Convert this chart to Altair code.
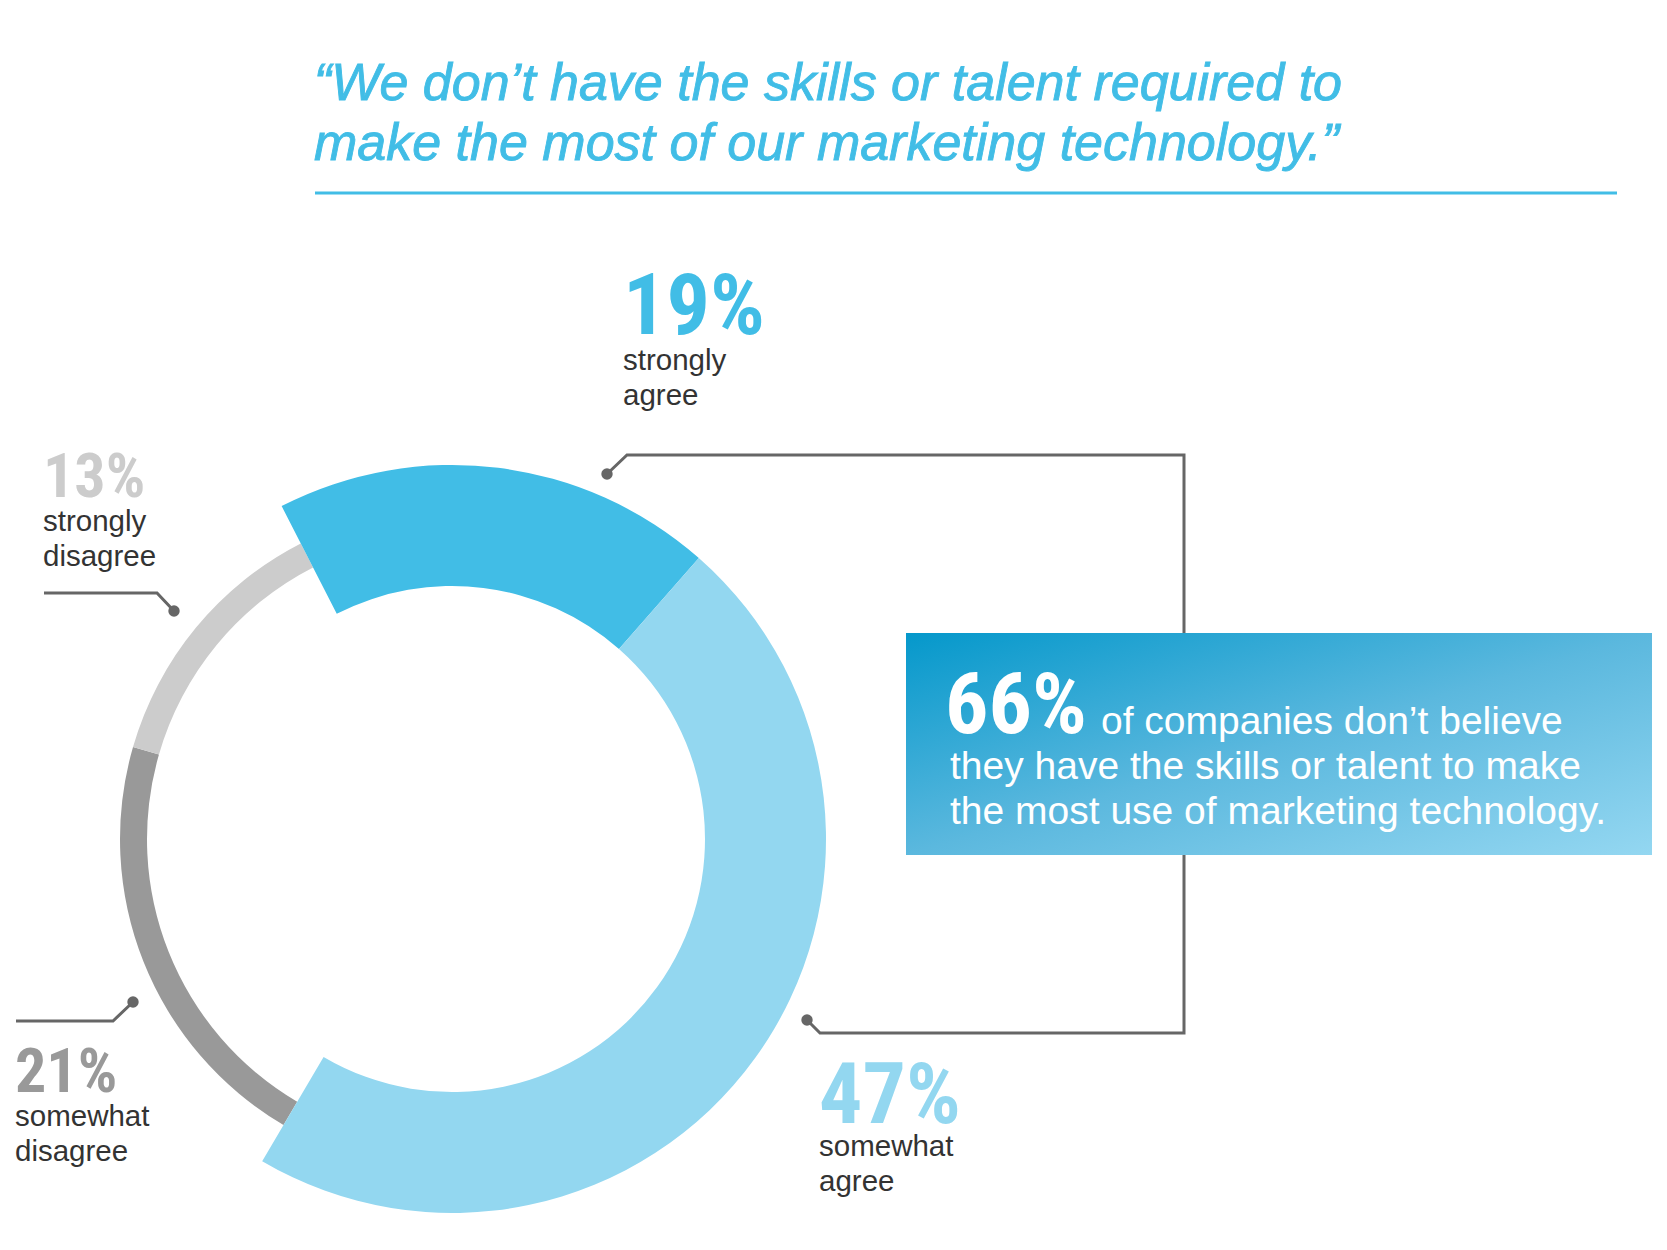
import altair as alt
import pandas as pd
import numpy as np

# ---- data ----
categories = ["strongly agree", "somewhat agree", "somewhat disagree", "strongly disagree"]
values = [19, 47, 21, 13]
groups = ["agree", "agree", "disagree", "disagree"]
pct_labels = ["19%", "47%", "21%", "13%"]
sub_line1 = ["strongly", "somewhat", "somewhat", "strongly"]
sub_line2 = ["agree", "agree", "disagree", "disagree"]
colors = ["#41bde6", "#93d7f0", "#999999", "#cccccc"]

title_lines = ["“We don’t have the skills or talent required to",
               "make the most of our marketing technology.”"]
box_big = "66%"
box_lines = ["of companies don’t believe",
             "they have the skills or talent to make",
             "the most use of marketing technology."]

# ---- layout (page pixels -> chart pixels, page margin 8) ----
M = 8
W, H = 1667 - 2 * M, 1250 - 2 * M
def px(v):
    return v - M

CX, CY = px(452), px(839)
START = 2 * np.pi - np.deg2rad(27.1)

df = pd.DataFrame({"category": categories, "value": values, "group": groups,
                   "pct": pct_labels,
                   "sub": [a + "\n" + b for a, b in zip(sub_line1, sub_line2)]})
df["end"] = np.cumsum(df["value"])
df["start"] = df["end"] - df["value"]

color_scale = alt.Scale(domain=categories, range=colors)
theta_scale = alt.Scale(domain=[0, 100], range=[START, START + 2 * np.pi])

base = alt.Chart(df).encode(
    theta=alt.Theta("start:Q", scale=theta_scale, stack=False),
    theta2="end:Q",
    color=alt.Color("category:N", scale=color_scale, legend=None),
    x=alt.value(CX), y=alt.value(CY),
)
arc_agree = base.transform_filter("datum.group == 'agree'").mark_arc(radius=374, radius2=253)
arc_dis = base.transform_filter("datum.group == 'disagree'").mark_arc(radius=332, radius2=305)

# label placement: category -> (x, pct baseline, sub baseline, pct size)
label_pos = {
    "strongly agree": (623, 334, 370, 86),
    "somewhat agree": (819, 1123, 1156, 86),
    "somewhat disagree": (15, 1092, 1126, 62),
    "strongly disagree": (43, 497, 531, 62),
}
PCT_FONT = "Liberation Sans Narrow, Roboto Condensed, DejaVu Sans Condensed, Liberation Sans, sans-serif"
BODY_FONT = "Liberation Sans, Arial, sans-serif"

layers = []
for cat, (lx, py, sy, fs) in label_pos.items():
    sel = alt.Chart(df).transform_filter(alt.datum.category == cat)
    layers.append(sel.mark_text(align="left", baseline="alphabetic", fontSize=fs,
                                fontWeight="bold", font=PCT_FONT).encode(
        text="pct:N", color=alt.Color("category:N", scale=color_scale, legend=None),
        x=alt.value(px(lx)), y=alt.value(px(py))))
    layers.append(sel.mark_text(align="left", baseline="alphabetic", fontSize=29.5,
                                font=BODY_FONT, color="#333333", lineBreak="\n",
                                lineHeight=35).encode(
        text="sub:N", x=alt.value(px(lx)), y=alt.value(px(sy))))

# leader lines
paths = pd.DataFrame({
    "path": ["a"] * 6 + ["b"] * 3 + ["c"] * 3,
    "order": [0, 1, 2, 3, 4, 5, 0, 1, 2, 0, 1, 2],
    "x": [px(v) for v in [607, 627, 1184, 1184, 820, 807, 44, 157, 174, 16, 113, 133]],
    "y": [px(v) for v in [474, 455, 455, 1033, 1033, 1020, 593, 593, 611, 1021, 1021, 1002]],
})
leader = alt.Chart(paths).mark_line(color="#666666", strokeWidth=3).encode(
    x=alt.X("x:Q", scale=None, axis=None), y=alt.Y("y:Q", scale=None, axis=None),
    detail="path:N", order="order:Q")
dots = pd.DataFrame({"x": [px(v) for v in [607, 807, 174, 133]],
                     "y": [px(v) for v in [474, 1020, 611, 1002]]})
dot = alt.Chart(dots).mark_circle(color="#666666", size=130, opacity=1).encode(
    x=alt.X("x:Q", scale=None, axis=None), y=alt.Y("y:Q", scale=None, axis=None))

one = pd.DataFrame({"k": [0]})
box = alt.Chart(one).mark_rect(
    fill=alt.Gradient(gradient="linear",
                      stops=[alt.GradientStop(color="#0598cb", offset=0),
                             alt.GradientStop(color="#5bb8de", offset=0.5),
                             alt.GradientStop(color="#94d7f1", offset=1)],
                      x1=0, y1=0, x2=1, y2=1)
).encode(x=alt.value(px(906)), x2=alt.value(px(1652)), y=alt.value(px(633)), y2=alt.value(px(855)))

box_df = pd.DataFrame({"big": [box_big], "l1": [box_lines[0]],
                       "rest": [box_lines[1] + "\n" + box_lines[2]]})
box_big_t = alt.Chart(box_df).mark_text(align="left", baseline="alphabetic", fontSize=86,
                                        fontWeight="bold", font=PCT_FONT, color="white").encode(
    text="big:N", x=alt.value(px(945)), y=alt.value(px(733)))
box_l1 = alt.Chart(box_df).mark_text(align="left", baseline="alphabetic", fontSize=39,
                                     font=BODY_FONT, color="white").encode(
    text="l1:N", x=alt.value(px(1101)), y=alt.value(px(734)))
box_rest = alt.Chart(box_df).mark_text(align="left", baseline="alphabetic", fontSize=39,
                                       font=BODY_FONT, color="white", lineBreak="\n",
                                       lineHeight=45).encode(
    text="rest:N", x=alt.value(px(950)), y=alt.value(px(779)))

title_df = pd.DataFrame({"t": ["\n".join(title_lines)]})
title = alt.Chart(title_df).mark_text(align="left", baseline="alphabetic", fontSize=52,
                                      font="Liberation Sans, Arial, sans-serif",
                                      fontStyle="italic", color="#41bde6",
                                      stroke="#41bde6", strokeWidth=0.9,
                                      lineBreak="\n", lineHeight=60).encode(
    text="t:N", x=alt.value(px(314)), y=alt.value(px(100)))
underline = alt.Chart(one).mark_rule(color="#41bde6", strokeWidth=3).encode(
    x=alt.value(px(315)), x2=alt.value(px(1617)), y=alt.value(px(193)))

chart = alt.layer(
    title, underline, leader, dot, box, box_big_t, box_l1, box_rest,
    arc_dis, arc_agree, *layers
).properties(width=W, height=H, padding=0,
             autosize=alt.AutoSizeParams(type="none")
).configure(background="white").configure_view(strokeWidth=0, strokeOpacity=0)

chart.save("out.html", embed_options={"renderer": "svg", "actions": False})
